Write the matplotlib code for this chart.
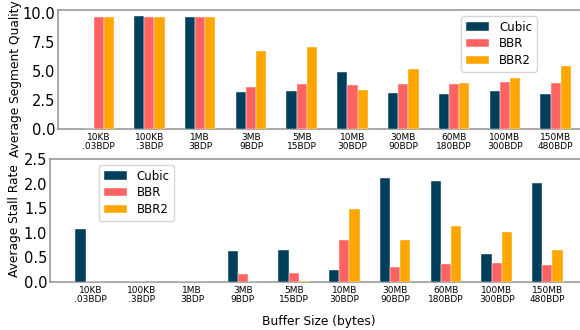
import numpy as np
import matplotlib
matplotlib.use("Agg")
import matplotlib.pyplot as plt

groups = ["10KB\n.03BDP", "100KB\n.3BDP", "1MB\n3BDP", "3MB\n9BDP", "5MB\n15BDP",
          "10MB\n30BDP", "30MB\n90BDP", "60MB\n180BDP", "100MB\n300BDP", "150MB\n480BDP"]

quality_cubic = [0.0, 9.81, 9.67, 3.23, 3.26, 4.93, 3.14, 3.06, 3.29, 3.00]
quality_bbr = [9.67, 9.67, 9.72, 3.66, 3.87, 3.81, 3.90, 3.90, 4.07, 3.98]
quality_bbr2 = [9.67, 9.72, 9.72, 6.72, 7.07, 3.40, 5.19, 3.98, 4.42, 5.45]

stall_cubic = [1.08, 0.0, 0.0, 0.62, 0.64, 0.24, 2.11, 2.05, 0.56, 2.01]
stall_bbr = [0.0, 0.0, 0.0, 0.17, 0.18, 0.86, 0.31, 0.36, 0.38, 0.34]
stall_bbr2 = [0.0, 0.0, 0.0, 0.0, 0.01, 1.48, 0.85, 1.14, 1.02, 0.66]

colors = ['#003f5c', '#ff6361', '#ffa600']
names = ['Cubic', 'BBR', 'BBR2']
width = 0.2

x = np.arange(len(groups))

fig = plt.figure(figsize=(5.8, 3.3), dpi=100)
ax1 = fig.add_axes([0.1, 0.609, 0.928, 0.3606])
ax2 = fig.add_axes([0.0862, 0.1455, 0.9276, 0.3727])


def draw(ax, series, ylim, yticks, ylabel, legend_loc):
    for i, vals in enumerate(series):
        ax.bar(x + (i - 1) * width, vals, width=width, color=colors[i],
               label=names[i], edgecolor='white', linewidth=0.3, zorder=3)
    ax.set_xlim(-0.8, 9.8)
    ax.set_ylim(*ylim)
    ax.set_yticks(yticks)
    ax.set_xticks(x)
    ax.set_xticklabels(groups, fontsize=6.5, linespacing=1.0)
    ax.tick_params(axis='y', labelsize=10.5, length=0, pad=2)
    ax.tick_params(axis='x', length=0, pad=3)
    for s in ['top', 'bottom', 'left']:
        ax.spines[s].set_color('#999999')
        ax.spines[s].set_linewidth(1.2)
    ax.spines['right'].set_visible(False)
    ax.set_ylabel(ylabel, fontsize=8.8)
    ax.legend(loc='upper left', bbox_to_anchor=legend_loc, fontsize=8.5,
              handlelength=2.0, borderpad=0.4, labelspacing=0.3,
              borderaxespad=0)


draw(ax1, [quality_cubic, quality_bbr, quality_bbr2], (0, 10.3),
     [0.0, 2.5, 5.0, 7.5, 10.0], 'Average Segment Quality', (0.749, 0.95))
ax1.yaxis.set_label_coords(-0.067, 0.42)

draw(ax2, [stall_cubic, stall_bbr, stall_bbr2], (0, 2.5),
     [0.0, 0.5, 1.0, 1.5, 2.0, 2.5], 'Average Stall Rate', (0.091, 0.951))
ax2.yaxis.set_label_coords(-0.054, 0.5)
ax2.set_xlabel('Buffer Size (bytes)', fontsize=8.8, labelpad=8)

fig.savefig("out.png", dpi=100)
